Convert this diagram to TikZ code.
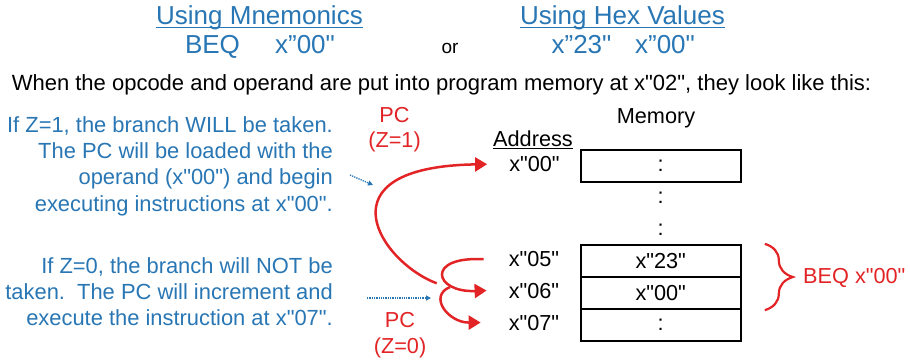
\documentclass[tikz,border=0pt]{standalone}
\usepackage{fontspec}
\setmainfont{Liberation Sans}[Ligatures=TeXOff]
\usepackage{xcolor}
\usetikzlibrary{arrows.meta,decorations.pathreplacing}
\definecolor{hintblue}{RGB}{40,118,180}
\definecolor{pcred}{RGB}{226,36,38}

\begin{document}
\begin{tikzpicture}[
    x=1pt, y=-1pt,
    title/.style={font=\fontsize{26}{30}\selectfont, text=hintblue, inner sep=0pt, anchor=base},
    uline/.style={draw=hintblue, line width=1.4pt},
    hintText/.style={font=\fontsize{21.9}{26.4}\selectfont, text=hintblue, align=right, inner sep=0pt, anchor=north east},
    memtext/.style={font=\fontsize{21.7}{25.5}\selectfont, inner sep=0pt},
    pclabel/.style={memtext, text=pcred, align=center, anchor=north},
    cell/.style={draw, line width=2.3pt, minimum width=160pt, minimum height=32pt, inner sep=0pt, memtext},
    redarrow/.style={draw=pcred, line width=2.5pt, -{Triangle[length=12pt,width=14pt]}},
    hint/.style={draw=hintblue, densely dotted, line width=1.3pt, -{Triangle[length=5pt,width=5pt]}}
  ]
    \useasboundingbox (0,0) rectangle (910,360);

    % header
    \node[title] (ttlmn) at (259.5,24) {Using Mnemonics};
    \node[title] (ttlhex) at (622.5,24) {Using Hex Values};
    \draw[uline] ([yshift=-3.3pt]ttlmn.base west) -- ([yshift=-3.3pt]ttlmn.base east);
    \draw[uline] ([yshift=-3.3pt]ttlhex.base west) -- ([yshift=-3.3pt]ttlhex.base east);
    \node[title] (beqop) at (212.5,53.3) {BEQ};
    \node[title] (beqarg) at (305,53.3) {x”00"};
    \node[title, text=black, font=\fontsize{19}{22}\selectfont] (or) at (450,53) {or};
    \node[title] (hex23) at (581.5,53.3) {x”23"};
    \node[title] (hex00) at (665,53.3) {x”00"};
    \node[font=\fontsize{22}{26}\selectfont, inner sep=0pt, anchor=base] (sent) at (441.5,90)
      {When the opcode and operand are put into program memory at x"02", they look like this:};

    % explanations
    \node[hintText] (z1txt) at (333,116)
      {If Z=1, the branch WILL be taken.\\The PC will be loaded with the\\operand (x"00") and begin\\executing instructions at x"00".};
    \node[hintText] (z0txt) at (333,257)
      {If Z=0, the branch will NOT be\\taken.\ \ The PC will increment and\\execute the instruction at x"07".};

    \node[pclabel] (pc1) at (394.5,107) {PC\\(Z=1)};
    \node[pclabel] (pc0) at (400,312.5) {PC\\(Z=0)};

    % memory
    \node[memtext] (memlbl) at (656,118.5) {Memory};
    \node[memtext, anchor=base] (addrlbl) at (533,146.7) {\underline{Address}};
    \node[memtext, anchor=base] (a00) at (534.5,171.7) {x"00"};
    \node[memtext, anchor=base] (a05) at (534,266.7) {x"05"};
    \node[memtext, anchor=base] (a06) at (534,298) {x"06"};
    \node[memtext, anchor=base] (a07) at (534,330) {x"07"};

    \node[cell] (m00) at (660.7,165.8) {:};
    \node[memtext] (dots1) at (660.7,198) {:};
    \node[memtext] (dots2) at (660.7,230) {:};
    \node[cell] (m05) at (660.7,261) {x"23"};
    \node[cell] (m06) at (660.7,293) {x"00"};
    \node[cell] (m07) at (660.7,325) {:};

    \draw[pcred, line width=2.2pt, decorate, decoration={brace, amplitude=28pt, aspect=0.5}]
      ([xshift=23pt]m05.north east) -- ([xshift=23pt]m06.south east);
    \node[memtext, text=pcred, anchor=base west] (beqlbl) at (803,283) {BEQ x"00"};

    % PC paths
    \coordinate (pcstart) at (436.7,283.3);
    \coordinate (pcsplit) at (450,287);
    \draw[redarrow] (pcstart) .. controls (380,262) and (318,166.7) .. ([xshift=-22pt]a00.west);
    \draw[redarrow] ([xshift=-25pt]a05.west) .. controls (425,256) and (434,292.7) .. ([xshift=-22pt]a06.west);
    \draw[redarrow] (pcsplit) .. controls (428,296) and (448,322.7) .. ([xshift=-28pt]a07.west);

    \coordinate (hint1s) at (350,175);
    \coordinate (hint1e) at (373,185);
    \coordinate (hint0s) at (367,298);
    \coordinate (hint0e) at (431,298);
    \draw[hint] (hint1s) -- (hint1e);
    \draw[hint] (hint0s) -- (hint0e);
  \end{tikzpicture}
\end{document}
